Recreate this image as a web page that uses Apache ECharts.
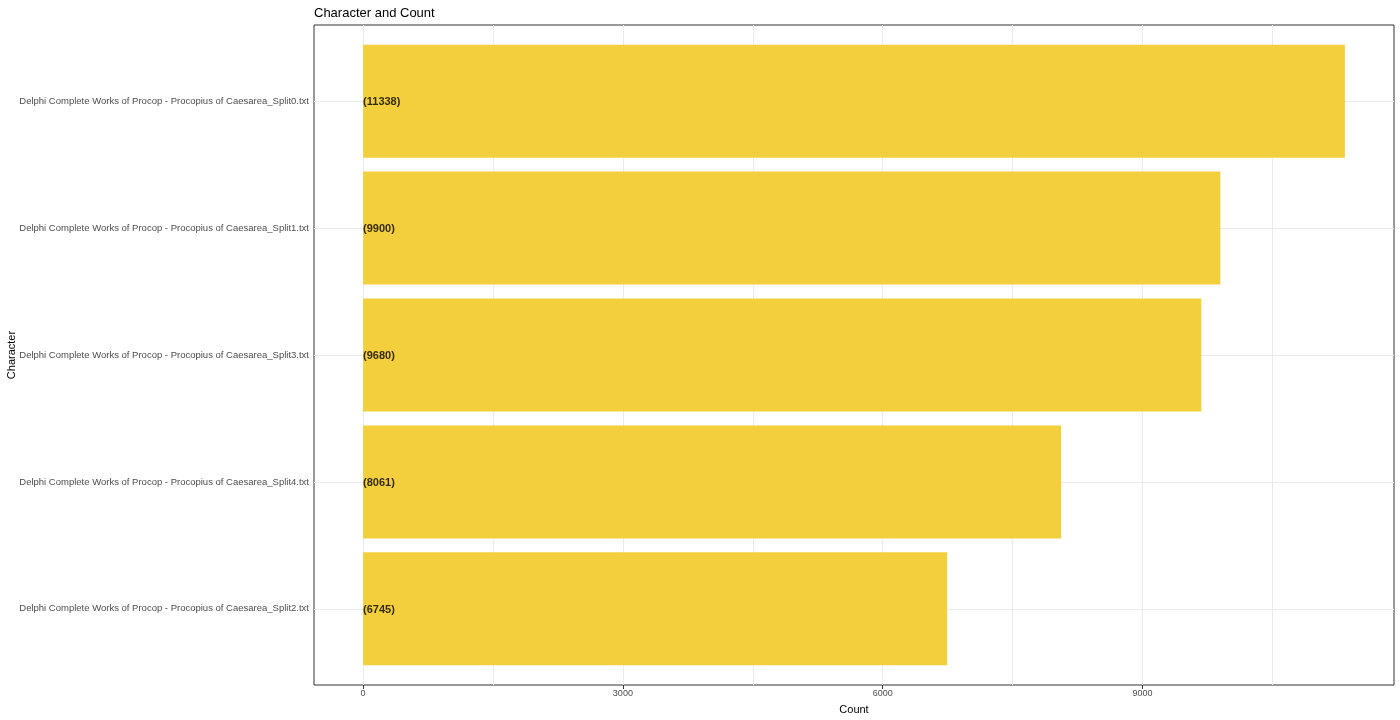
<!DOCTYPE html>
<html>
<head>
<meta charset="utf-8">
<script src="https://cdn.jsdelivr.net/npm/echarts@6/dist/echarts.min.js"></script>
<style>html,body{margin:0;padding:0;background:#fff;}#c{width:1400px;height:720px;}</style>
</head>
<body>
<div id="c"></div>
<script>
var categories = [
  "Delphi Complete Works of Procop - Procopius of Caesarea_Split0.txt",
  "Delphi Complete Works of Procop - Procopius of Caesarea_Split1.txt",
  "Delphi Complete Works of Procop - Procopius of Caesarea_Split3.txt",
  "Delphi Complete Works of Procop - Procopius of Caesarea_Split4.txt",
  "Delphi Complete Works of Procop - Procopius of Caesarea_Split2.txt"
];
var counts = [11338, 9900, 9680, 8061, 6745];
var xTicks = [0, 3000, 6000, 9000];
var xGrid = [0, 1500, 3000, 4500, 6000, 7500, 9000, 10500];

var maxV = Math.max.apply(null, counts);
var xMin = -0.05 * maxV, xMax = maxV * 1.05;
var yPos = categories.map(function (c, i) { return i + 1; });
var barData = counts.map(function (v, i) { return [v, i + 1]; });
var barColor = '#F3CF3D';

var chart = echarts.init(document.getElementById('c'), null, {renderer: 'canvas'});
chart.setOption({
  animation: false,
  backgroundColor: '#fff',
  title: {
    text: 'Character and Count', left: 309, top: 2,
    textStyle: {fontFamily: 'Liberation Sans', fontSize: 13, fontWeight: 'normal', color: '#000'}
  },
  grid: {left: 314, right: 6, top: 25, bottom: 35, outerBoundsMode: 'none', containLabel: false,
         show: true, borderColor: '#333', borderWidth: 1, backgroundColor: 'transparent'},
  xAxis: {
    type: 'value', min: xMin, max: xMax,
    name: 'Count', nameLocation: 'middle', nameGap: 19, nameMoveOverlap: false,
    nameTextStyle: {fontFamily: 'Liberation Sans', fontSize: 11, color: '#000'},
    axisLine: {show: false},
    axisTick: {show: true, length: 4, lineStyle: {color: '#333'}, customValues: xTicks},
    axisLabel: {customValues: xTicks, margin: 4, fontFamily: 'Liberation Sans', fontSize: 9, color: '#4D4D4D',
      formatter: function (v) { return String(v); }},
    splitLine: {show: false}
  },
  yAxis: {
    type: 'value', min: 0.4, max: 5.6, inverse: true,
    name: 'Character', nameLocation: 'middle', nameGap: 297, nameRotate: 90, nameMoveOverlap: false,
    nameTextStyle: {fontFamily: 'Liberation Sans', fontSize: 11, color: '#000'},
    axisLine: {show: false},
    axisTick: {show: true, length: 4, lineStyle: {color: '#333'}, customValues: yPos},
    axisLabel: {
      customValues: yPos, margin: 5, fontFamily: 'Liberation Sans', fontSize: 9.5, color: '#4D4D4D',
      formatter: function (v) { return categories[Math.round(v) - 1] || ''; }
    },
    splitLine: {show: false}
  },
  series: [
    {
      type: 'scatter', data: [], z: 1, silent: true,
      markLine: {
        silent: true, symbol: ['none', 'none'], label: {show: false}, animation: false,
        lineStyle: {color: '#EBEBEB', width: 1, type: 'solid'},
        emphasis: {disabled: true},
        data: xGrid.map(function (v) { return {xAxis: v}; }).concat(yPos.map(function (v) { return {yAxis: v}; }))
      }
    },
    {
      type: 'custom', z: 10, data: barData, silent: true,
      renderItem: function (params, api) {
        var v = api.value(0), i = api.value(1);
        var p0 = api.coord([0, i - 0.445]);
        var p1 = api.coord([v, i + 0.445]);
        return {
          type: 'rect',
          shape: {x: p0[0], y: Math.min(p0[1], p1[1]), width: p1[0] - p0[0], height: Math.abs(p1[1] - p0[1])},
          style: {fill: barColor}
        };
      }
    },
    {
      type: 'scatter', z: 20, silent: true, symbolSize: 0,
      data: counts.map(function (v, i) { return [0, i + 1, v]; }),
      label: {
        show: true, position: 'right', distance: 0, offset: [0, 1],
        formatter: function (p) { return '(' + p.value[2] + ')'; },
        fontFamily: 'Liberation Sans', fontSize: 11, fontWeight: 'bold', color: '#000'
      }
    }
  ]
});
</script>
</body>
</html>
